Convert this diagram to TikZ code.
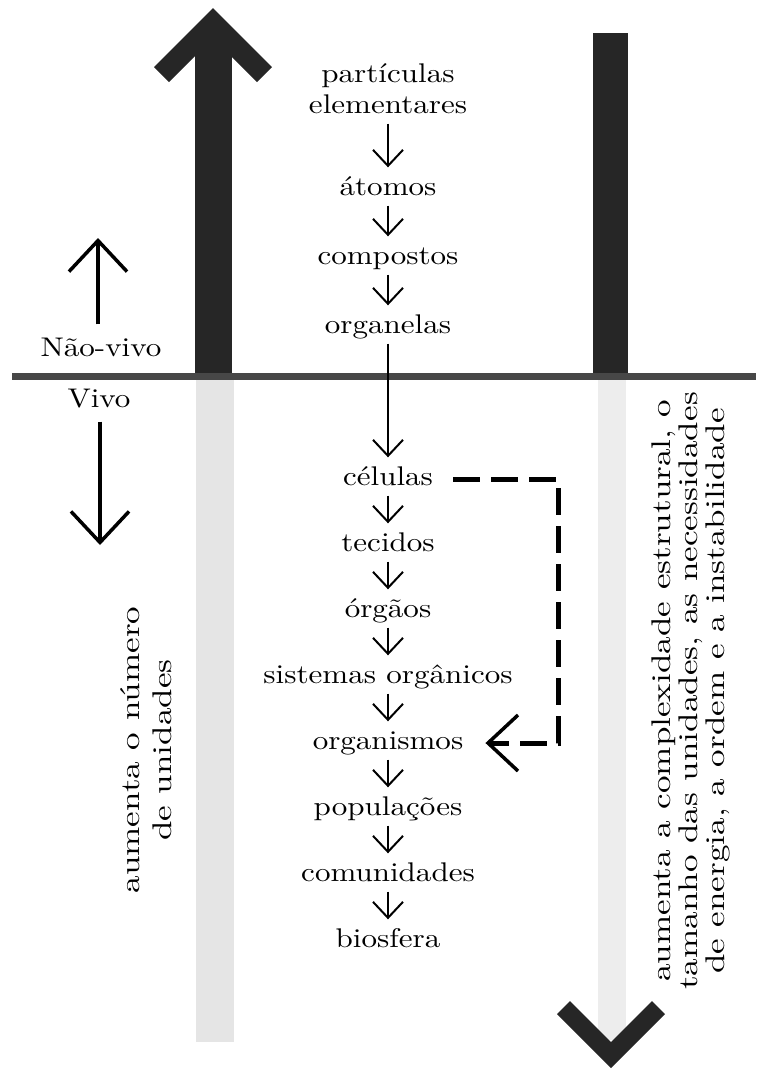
\documentclass[tikz,border=0pt]{standalone}
\usepackage{fontspec}
\usepackage{tikz}
\usetikzlibrary{arrows.meta,positioning}
\newfontfamily\widerm{lmroman10-regular.otf}[FakeStretch=1.15]
\newfontfamily\siderm{lmroman10-regular.otf}[FakeStretch=1.3]

\begin{document}
\begin{tikzpicture}[x=1pt,y=-1pt,node distance=66pt,on grid,
    lvl/.style={font=\widerm\fontsize{27}{29}\selectfont,inner sep=0pt,
      text height=19pt,text depth=6pt},
    side/.style={font=\siderm\fontsize{27}{27}\selectfont,inner sep=0pt,
      align=center,rotate=90},
    goes/.style={-{Straight Barb[length=16pt,width=30pt]},line width=2pt,
      shorten <=4pt,shorten >=9pt},
    bigthin/.style={-{Straight Barb[length=31pt,width=58pt]},line width=3.5pt},
    dashlink/.style={-{Straight Barb[length=30pt,width=56pt,line width=3.5pt]},
      line width=5pt,dash pattern=on 27pt off 11pt,
      shorten <=20pt,shorten >=22pt},
    darkbar/.style={fill=black!85},
    palebar/.style={fill=black!10}]
  \path[use as bounding box] (0,0) rectangle (756,1069);

  % big arrows and the line between living and non-living
  \fill[palebar] (196,380) rectangle (234,1042);
  \fill[palebar,fill=black!7] (598,380) rectangle (626,1040);
  \fill[darkbar] (195,30) rectangle (232,376);
  \fill[darkbar] (213,8) -- (272,67) -- (257,82) -- (213,38)
    -- (169,82) -- (154,67) -- cycle;
  \fill[darkbar] (593,33) rectangle (628,376);
  \fill[darkbar] (611,1068) -- (665,1014) -- (652,1001) -- (611,1042)
    -- (570,1001) -- (557,1014) -- cycle;
  \fill[black!72] (12,373) rectangle (756,380);

  % levels
  \node[lvl] (part) at (388,76) {partículas};
  \node[lvl] (elem) [below = 31pt of part] {elementares};
  \node[lvl] (atomos) [below = 82pt of elem] {átomos};
  \node[lvl] (comp) [below = 69pt of atomos] {compostos};
  \node[lvl] (organe) [below = 69pt of comp] {organelas};
  \node[lvl] (cel) [below = 152pt of organe] {células};
  \node[lvl] (tec) [below = of cel] {tecidos};
  \node[lvl] (orgaos) [below = of tec] {órgãos};
  \node[lvl] (sist) [below = of orgaos] {sistemas orgânicos};
  \node[lvl] (organis) [below = of sist] {organismos};
  \node[lvl] (pop) [below = of organis] {populações};
  \node[lvl] (comun) [below = of pop] {comunidades};
  \node[lvl] (bio) [below = of comun] {biosfera};

  \path[goes]
    (elem) edge (atomos)
    (atomos) edge (comp)
    (comp) edge (organe)
    (organe) edge (cel)
    (cel) edge (tec)
    (tec) edge (orgaos)
    (orgaos) edge (sist)
    (sist) edge (organis)
    (organis) edge (pop)
    (pop) edge (comun)
    (comun) edge (bio);

  \coordinate (rail) at (558,0);
  \draw[dashlink] (cel.east) -| (rail |- organis.east) -- (organis.east);

  % left side
  \node[lvl] (naovivo) at (101,350) {Não-vivo};
  \node[lvl] (vivo) at (99,401) {Vivo};
  \coordinate (uptip) at (98,238);
  \coordinate (downtip) at (100,545);
  \draw[bigthin,shorten <=13pt] (naovivo.north -| uptip) -- (uptip);
  \draw[bigthin,shorten <=8pt] (vivo.south -| downtip) -- (downtip);

  \node[side] (numero) at (146,750) {aumenta o número\\[5pt]de unidades};
  \node[side] (complex) at (691,691)
    {aumenta a complexidade estrutural, o\\tamanho das unidades, as necessidades\\de energia, a ordem e a instabilidade};
\end{tikzpicture}
\end{document}
